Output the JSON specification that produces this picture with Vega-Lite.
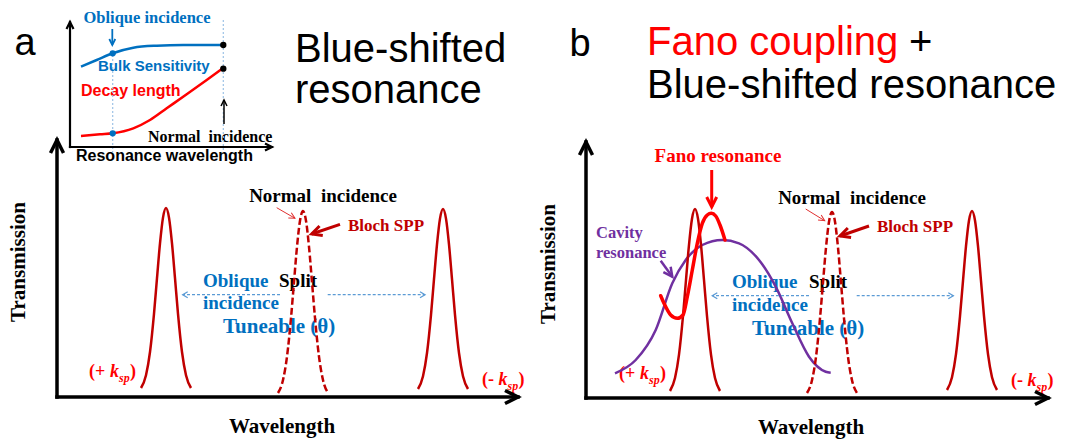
{
  "$schema": "https://vega.github.io/schema/vega-lite/v6.json",
  "width": 1079,
  "height": 441,
  "autosize": {"type": "fit", "contains": "padding"},
  "padding": 0,
  "background": "white",
  "config": {"view": {"stroke": null}},
  "datasets": {
    "panelLetters": [
      {"x": 25, "y": 55, "label": "a"},
      {"x": 580, "y": 56, "label": "b"}
    ],
    "headingBlack": [
      {"x": 295, "y": 62, "label": "Blue-shifted"},
      {"x": 295, "y": 103, "label": "resonance"},
      {"x": 909, "y": 55, "label": "+"},
      {"x": 647, "y": 98, "label": "Blue-shifted resonance"}
    ],
    "headingRed": [
      {"x": 647, "y": 55, "label": "Fano coupling"}
    ],
    "insetObliqueLabel": [
      {"x": 147, "y": 18, "label": "Oblique incidence"}
    ],
    "insetBulkLabel": [
      {"x": 98, "y": 66, "label": "Bulk Sensitivity"}
    ],
    "insetDecayLabel": [
      {"x": 81, "y": 91, "label": "Decay length"}
    ],
    "insetNormalLabel": [
      {"x": 148, "y": 137, "label": "Normal \u00a0incidence"}
    ],
    "insetAxisLabel": [
      {"x": 76, "y": 156, "label": "Resonance wavelength"}
    ],
    "wavelengthTitles": [
      {"x": 282, "y": 427, "label": "Wavelength"},
      {"x": 811, "y": 428, "label": "Wavelength"}
    ],
    "transmissionTitles": [
      {"x": 19, "y": 262, "label": "Transmission"},
      {"x": 549, "y": 264, "label": "Transmission"}
    ],
    "normalLabels": [
      {"x": 323, "y": 196, "label": "Normal \u00a0incidence"},
      {"x": 852, "y": 198, "label": "Normal \u00a0incidence"}
    ],
    "blochLabels": [
      {"x": 348, "y": 226, "label": "Bloch SPP"},
      {"x": 877, "y": 227, "label": "Bloch SPP"}
    ],
    "obliqueLabels": [
      {"x": 203, "y": 281, "label": "Oblique"},
      {"x": 203, "y": 303, "label": "incidence"},
      {"x": 732, "y": 282, "label": "Oblique"},
      {"x": 732, "y": 305, "label": "incidence"}
    ],
    "splitLabels": [
      {"x": 279, "y": 281, "label": "Split"},
      {"x": 809, "y": 282, "label": "Split"}
    ],
    "tuneLabels": [
      {"x": 223, "y": 327, "label": "Tuneable (θ)"},
      {"x": 752, "y": 329, "label": "Tuneable (θ)"}
    ],
    "fanoLabel": [
      {"x": 718, "y": 156, "label": "Fano resonance"}
    ],
    "cavityLabel": [
      {"x": 596, "y": 233, "label": "Cavity"},
      {"x": 596, "y": 253, "label": "resonance"}
    ],
    "kUpright": [
      {"x": 89, "y": 377, "label": "(+ "},
      {"x": 130, "y": 377, "label": ")"},
      {"x": 482, "y": 384.5, "label": "(- "},
      {"x": 518.5, "y": 384.5, "label": ")"},
      {"x": 619, "y": 378.5, "label": "(+ "},
      {"x": 660, "y": 378.5, "label": ")"},
      {"x": 1011, "y": 385.5, "label": "(- "},
      {"x": 1047.5, "y": 385.5, "label": ")"}
    ],
    "kItalic": [
      {"x": 110, "y": 377, "label": "k"},
      {"x": 498.5, "y": 384.5, "label": "k"},
      {"x": 640, "y": 378.5, "label": "k"},
      {"x": 1027.5, "y": 385.5, "label": "k"}
    ],
    "kSub": [
      {"x": 119, "y": 382, "label": "sp"},
      {"x": 507.5, "y": 389.5, "label": "sp"},
      {"x": 649, "y": 383.5, "label": "sp"},
      {"x": 1036.5, "y": 390.5, "label": "sp"}
    ],
    "insetGuides": [
      {"x": 112.7, "y": 55, "y2": 152},
      {"x": 223.3, "y": 20, "y2": 152}
    ],
    "bulkCurve": [
      {"x": 81, "y": 66.7}, {"x": 96.7, "y": 60}, {"x": 112.7, "y": 53.3},
      {"x": 133.3, "y": 47.7}, {"x": 156.7, "y": 45.7}, {"x": 183.3, "y": 45},
      {"x": 223.3, "y": 45}
    ],
    "decayCurve": [
      {"x": 81, "y": 136}, {"x": 100, "y": 134.3}, {"x": 112.7, "y": 133.3},
      {"x": 133.3, "y": 128.3}, {"x": 150, "y": 120}, {"x": 166.7, "y": 108.3},
      {"x": 186.7, "y": 94.3}, {"x": 206.7, "y": 80}, {"x": 221.7, "y": 69}
    ],
    "cavityCurve": [
      {"x": 615, "y": 373.3}, {"x": 635.7, "y": 360}, {"x": 655.7, "y": 330},
      {"x": 672.3, "y": 283.3}, {"x": 685.7, "y": 260}, {"x": 702.3, "y": 245},
      {"x": 722.3, "y": 240}, {"x": 739, "y": 243.3}, {"x": 759, "y": 260},
      {"x": 775.7, "y": 286.7}, {"x": 792.3, "y": 323.3}, {"x": 809, "y": 356.7},
      {"x": 825.7, "y": 371.7}, {"x": 830.7, "y": 372.7}
    ],
    "solidPeaks": [
      {"peak": "a+", "x": 141, "y": 388}, {"peak": "a+", "x": 146, "y": 375.2}, {"peak": "a+", "x": 150, "y": 352},
      {"peak": "a+", "x": 154, "y": 313.8}, {"peak": "a+", "x": 157, "y": 278.2}, {"peak": "a+", "x": 160, "y": 243.4},
      {"peak": "a+", "x": 163, "y": 217.6}, {"peak": "a+", "x": 166, "y": 208}, {"peak": "a+", "x": 169, "y": 217.6},
      {"peak": "a+", "x": 172, "y": 243.4}, {"peak": "a+", "x": 175, "y": 278.2}, {"peak": "a+", "x": 178, "y": 313.8},
      {"peak": "a+", "x": 182, "y": 352}, {"peak": "a+", "x": 186, "y": 375.2}, {"peak": "a+", "x": 191, "y": 388},

      {"peak": "a-", "x": 418, "y": 389}, {"peak": "a-", "x": 423, "y": 376.2}, {"peak": "a-", "x": 427, "y": 353},
      {"peak": "a-", "x": 431, "y": 314.8}, {"peak": "a-", "x": 434, "y": 279.2}, {"peak": "a-", "x": 437, "y": 244.4},
      {"peak": "a-", "x": 440, "y": 218.6}, {"peak": "a-", "x": 443, "y": 209}, {"peak": "a-", "x": 446, "y": 218.6},
      {"peak": "a-", "x": 449, "y": 244.4}, {"peak": "a-", "x": 452, "y": 279.2}, {"peak": "a-", "x": 455, "y": 314.8},
      {"peak": "a-", "x": 459, "y": 353}, {"peak": "a-", "x": 463, "y": 376.2}, {"peak": "a-", "x": 468, "y": 389},

      {"peak": "b+", "x": 670, "y": 391}, {"peak": "b+", "x": 675, "y": 378}, {"peak": "b+", "x": 679, "y": 354.6},
      {"peak": "b+", "x": 683, "y": 316}, {"peak": "b+", "x": 686, "y": 280}, {"peak": "b+", "x": 689, "y": 244.8},
      {"peak": "b+", "x": 692, "y": 218.7}, {"peak": "b+", "x": 695, "y": 209}, {"peak": "b+", "x": 698, "y": 218.7},
      {"peak": "b+", "x": 701, "y": 244.8}, {"peak": "b+", "x": 704, "y": 280}, {"peak": "b+", "x": 707, "y": 316},
      {"peak": "b+", "x": 711, "y": 354.6}, {"peak": "b+", "x": 715, "y": 378}, {"peak": "b+", "x": 720, "y": 391},

      {"peak": "b-", "x": 947, "y": 390}, {"peak": "b-", "x": 952, "y": 377.2}, {"peak": "b-", "x": 956, "y": 354.2},
      {"peak": "b-", "x": 960, "y": 316.2}, {"peak": "b-", "x": 963, "y": 280.8}, {"peak": "b-", "x": 966, "y": 246.2},
      {"peak": "b-", "x": 969, "y": 220.5}, {"peak": "b-", "x": 972, "y": 211}, {"peak": "b-", "x": 975, "y": 220.5},
      {"peak": "b-", "x": 978, "y": 246.2}, {"peak": "b-", "x": 981, "y": 280.8}, {"peak": "b-", "x": 984, "y": 316.2},
      {"peak": "b-", "x": 988, "y": 354.2}, {"peak": "b-", "x": 992, "y": 377.2}, {"peak": "b-", "x": 997, "y": 390}
    ],
    "normalPeaks": [
      {"peak": "a0", "x": 278, "y": 393}, {"peak": "a0", "x": 283, "y": 380}, {"peak": "a0", "x": 287, "y": 356.6},
      {"peak": "a0", "x": 291, "y": 318}, {"peak": "a0", "x": 294, "y": 282}, {"peak": "a0", "x": 297, "y": 246.8},
      {"peak": "a0", "x": 300, "y": 220.7}, {"peak": "a0", "x": 303, "y": 211}, {"peak": "a0", "x": 306, "y": 220.7},
      {"peak": "a0", "x": 309, "y": 246.8}, {"peak": "a0", "x": 312, "y": 282}, {"peak": "a0", "x": 315, "y": 318},
      {"peak": "a0", "x": 319, "y": 356.6}, {"peak": "a0", "x": 323, "y": 380}, {"peak": "a0", "x": 328, "y": 393},

      {"peak": "b0", "x": 807, "y": 393}, {"peak": "b0", "x": 812, "y": 380.2}, {"peak": "b0", "x": 816, "y": 356.9},
      {"peak": "b0", "x": 820, "y": 318.4}, {"peak": "b0", "x": 823, "y": 282.6}, {"peak": "b0", "x": 826, "y": 247.6},
      {"peak": "b0", "x": 829, "y": 221.7}, {"peak": "b0", "x": 832, "y": 212}, {"peak": "b0", "x": 835, "y": 221.7},
      {"peak": "b0", "x": 838, "y": 247.6}, {"peak": "b0", "x": 841, "y": 282.6}, {"peak": "b0", "x": 844, "y": 318.4},
      {"peak": "b0", "x": 848, "y": 356.9}, {"peak": "b0", "x": 852, "y": 380.2}, {"peak": "b0", "x": 857, "y": 393}
    ],
    "fanoCurve": [
      {"x": 660.7, "y": 295.7}, {"x": 664, "y": 303.3}, {"x": 670.7, "y": 315},
      {"x": 677.3, "y": 318.3}, {"x": 683, "y": 315}, {"x": 687.3, "y": 296.7},
      {"x": 692.3, "y": 270}, {"x": 697.3, "y": 243.3}, {"x": 702.3, "y": 223.3},
      {"x": 707.3, "y": 215}, {"x": 711.3, "y": 213.3}, {"x": 715.7, "y": 216},
      {"x": 720, "y": 225}, {"x": 725, "y": 240}
    ],
    "mainAxes": [
      {"x": 57, "y": 397, "x2": 57, "y2": 140, "dir": 270},
      {"x": 57, "y": 397, "x2": 518, "y2": 397, "dir": 0},
      {"x": 586, "y": 398, "x2": 586, "y2": 142, "dir": 270},
      {"x": 586, "y": 398, "x2": 1048, "y2": 398, "dir": 0}
    ],
    "insetAxes": [
      {"x": 70, "y": 147, "x2": 70, "y2": 22, "dir": 270},
      {"x": 70, "y": 147, "x2": 272, "y2": 147, "dir": 0}
    ],
    "blochPointers": [
      {"x": 340, "y": 224.3, "x2": 311.7, "y2": 234, "dir": 161},
      {"x": 869, "y": 226, "x2": 840, "y2": 236, "dir": 161}
    ],
    "fanoPointer": [
      {"x": 711.7, "y": 170, "x2": 711.7, "y2": 207, "dir": 90}
    ],
    "cavityPointer": [
      {"x": 660.7, "y": 260.7, "x2": 672.3, "y2": 276.7, "dir": 54}
    ],
    "normalPointers": [
      {"x": 276.7, "y": 207.7, "x2": 295, "y2": 218.3, "dir": 30},
      {"x": 805.7, "y": 209, "x2": 824.7, "y2": 220.7, "dir": 32}
    ],
    "obliquePointer": [
      {"x": 112.3, "y": 29, "x2": 112.3, "y2": 45, "dir": 90}
    ],
    "normalInsetPointer": [
      {"x": 224, "y": 124, "x2": 224, "y2": 100, "dir": 270}
    ],
    "splitArrows": [
      {"x": 280, "y": 294.7, "x2": 182.7, "y2": 294.7, "dir": 180},
      {"x": 327.7, "y": 294.7, "x2": 425, "y2": 294.7, "dir": 0},
      {"x": 809, "y": 295.7, "x2": 712.3, "y2": 295.7, "dir": 180},
      {"x": 856.7, "y": 295.7, "x2": 953.3, "y2": 295.7, "dir": 0}
    ],
    "normalDots": [
      {"x": 223.3, "y": 45}, {"x": 223.3, "y": 68.7}
    ],
    "obliqueDots": [
      {"x": 112.7, "y": 53.3}, {"x": 112.7, "y": 133.3}
    ]
  },
  "encoding": {
    "x": {"field": "x", "type": "quantitative", "scale": {"domain": [0, 1079], "nice": false, "zero": false}, "axis": null},
    "y": {"field": "y", "type": "quantitative", "scale": {"domain": [0, 441], "nice": false, "zero": false, "reverse": true}, "axis": null}
  },
  "layer": [
    {
      "data": {"name": "panelLetters"},
      "mark": {"type": "text", "font": "Liberation Sans", "fontSize": 38, "align": "center", "baseline": "alphabetic", "color": "black"},
      "encoding": {"text": {"field": "label"}}
    },
    {
      "data": {"name": "headingBlack"},
      "mark": {"type": "text", "font": "Liberation Sans", "fontSize": 40, "align": "left", "baseline": "alphabetic", "color": "black"},
      "encoding": {"text": {"field": "label"}}
    },
    {
      "data": {"name": "headingRed"},
      "mark": {"type": "text", "font": "Liberation Sans", "fontSize": 40, "align": "left", "baseline": "alphabetic", "color": "#FF0000"},
      "encoding": {"text": {"field": "label"}}
    },
    {
      "data": {"name": "insetObliqueLabel"},
      "mark": {"type": "text", "font": "Liberation Serif", "fontWeight": "bold", "fontSize": 16.5, "align": "center", "baseline": "middle", "color": "#0070C0"},
      "encoding": {"text": {"field": "label"}}
    },
    {
      "data": {"name": "insetBulkLabel"},
      "mark": {"type": "text", "font": "Liberation Sans", "fontWeight": "bold", "fontSize": 15, "align": "left", "baseline": "middle", "color": "#0070C0"},
      "encoding": {"text": {"field": "label"}}
    },
    {
      "data": {"name": "insetDecayLabel"},
      "mark": {"type": "text", "font": "Liberation Sans", "fontWeight": "bold", "fontSize": 16, "align": "left", "baseline": "middle", "color": "#FF0000"},
      "encoding": {"text": {"field": "label"}}
    },
    {
      "data": {"name": "insetNormalLabel"},
      "mark": {"type": "text", "font": "Liberation Serif", "fontWeight": "bold", "fontSize": 16, "align": "left", "baseline": "middle", "color": "black"},
      "encoding": {"text": {"field": "label"}}
    },
    {
      "data": {"name": "insetAxisLabel"},
      "mark": {"type": "text", "font": "Liberation Sans", "fontWeight": "bold", "fontSize": 16, "align": "left", "baseline": "middle", "color": "black"},
      "encoding": {"text": {"field": "label"}}
    },
    {
      "data": {"name": "wavelengthTitles"},
      "mark": {"type": "text", "font": "Liberation Serif", "fontWeight": "bold", "fontSize": 21, "align": "center", "baseline": "middle", "color": "black"},
      "encoding": {"text": {"field": "label"}}
    },
    {
      "data": {"name": "transmissionTitles"},
      "mark": {"type": "text", "font": "Liberation Serif", "fontWeight": "bold", "fontSize": 21, "align": "center", "baseline": "middle", "angle": 270, "color": "black"},
      "encoding": {"text": {"field": "label"}}
    },
    {
      "data": {"name": "normalLabels"},
      "mark": {"type": "text", "font": "Liberation Serif", "fontWeight": "bold", "fontSize": 19, "align": "center", "baseline": "middle", "color": "black"},
      "encoding": {"text": {"field": "label"}}
    },
    {
      "data": {"name": "blochLabels"},
      "mark": {"type": "text", "font": "Liberation Serif", "fontWeight": "bold", "fontSize": 17, "align": "left", "baseline": "middle", "color": "#C00000"},
      "encoding": {"text": {"field": "label"}}
    },
    {
      "data": {"name": "obliqueLabels"},
      "mark": {"type": "text", "font": "Liberation Serif", "fontWeight": "bold", "fontSize": 19, "align": "left", "baseline": "middle", "color": "#0070C0"},
      "encoding": {"text": {"field": "label"}}
    },
    {
      "data": {"name": "splitLabels"},
      "mark": {"type": "text", "font": "Liberation Serif", "fontWeight": "bold", "fontSize": 19, "align": "left", "baseline": "middle", "color": "black"},
      "encoding": {"text": {"field": "label"}}
    },
    {
      "data": {"name": "tuneLabels"},
      "mark": {"type": "text", "font": "Liberation Serif", "fontWeight": "bold", "fontSize": 21, "align": "left", "baseline": "middle", "color": "#0070C0"},
      "encoding": {"text": {"field": "label"}}
    },
    {
      "data": {"name": "fanoLabel"},
      "mark": {"type": "text", "font": "Liberation Serif", "fontWeight": "bold", "fontSize": 19, "align": "center", "baseline": "middle", "color": "#FF0000"},
      "encoding": {"text": {"field": "label"}}
    },
    {
      "data": {"name": "cavityLabel"},
      "mark": {"type": "text", "font": "Liberation Serif", "fontWeight": "bold", "fontSize": 16.5, "align": "left", "baseline": "middle", "color": "#7030A0"},
      "encoding": {"text": {"field": "label"}}
    },
    {
      "data": {"name": "kUpright"},
      "mark": {"type": "text", "font": "Liberation Serif", "fontWeight": "bold", "fontSize": 18, "align": "left", "baseline": "alphabetic", "color": "#FF0000"},
      "encoding": {"text": {"field": "label"}}
    },
    {
      "data": {"name": "kItalic"},
      "mark": {"type": "text", "font": "Liberation Serif", "fontWeight": "bold", "fontStyle": "italic", "fontSize": 18, "align": "left", "baseline": "alphabetic", "color": "#FF0000"},
      "encoding": {"text": {"field": "label"}}
    },
    {
      "data": {"name": "kSub"},
      "mark": {"type": "text", "font": "Liberation Serif", "fontWeight": "bold", "fontStyle": "italic", "fontSize": 12, "align": "left", "baseline": "alphabetic", "color": "#FF0000"},
      "encoding": {"text": {"field": "label"}}
    },
    {
      "data": {"name": "insetGuides"},
      "mark": {"type": "rule", "color": "#9DC3E6", "strokeWidth": 1.2, "strokeDash": [2, 2]},
      "encoding": {"y2": {"field": "y2"}}
    },
    {
      "data": {"name": "bulkCurve"},
      "mark": {"type": "line", "interpolate": "monotone", "color": "#0070C0", "strokeWidth": 2.5},
      "encoding": {}
    },
    {
      "data": {"name": "decayCurve"},
      "mark": {"type": "line", "interpolate": "monotone", "color": "#FF0000", "strokeWidth": 2.5},
      "encoding": {}
    },
    {
      "data": {"name": "cavityCurve"},
      "mark": {"type": "line", "interpolate": "monotone", "color": "#7030A0", "strokeWidth": 2.5},
      "encoding": {}
    },
    {
      "data": {"name": "solidPeaks"},
      "mark": {"type": "line", "interpolate": "monotone", "color": "#C00000", "strokeWidth": 2.5},
      "encoding": {"detail": {"field": "peak"}}
    },
    {
      "data": {"name": "normalPeaks"},
      "mark": {"type": "line", "interpolate": "monotone", "color": "#C00000", "strokeWidth": 2.5, "strokeDash": [7, 3]},
      "encoding": {"detail": {"field": "peak"}}
    },
    {
      "data": {"name": "fanoCurve"},
      "mark": {"type": "line", "interpolate": "monotone", "color": "#FF0000", "strokeWidth": 3.5, "strokeCap": "round"},
      "encoding": {}
    },
    {
      "data": {"name": "mainAxes"},
      "mark": {"type": "rule", "color": "black", "strokeWidth": 3.5, "strokeCap": "square"},
      "encoding": {"x2": {"field": "x2"}, "y2": {"field": "y2"}}
    },
    {
      "data": {"name": "mainAxes"},
      "mark": {"type": "point", "shape": "M-1,-0.5L0,0L-1,0.5", "filled": false, "size": 676, "strokeWidth": 3.5, "color": "black", "opacity": 1, "strokeJoin": "miter"},
      "encoding": {
        "x": {"field": "x2", "type": "quantitative", "scale": {"domain": [0, 1079], "nice": false, "zero": false}, "axis": null},
        "y": {"field": "y2", "type": "quantitative", "scale": {"domain": [0, 441], "nice": false, "zero": false, "reverse": true}, "axis": null},
        "angle": {"field": "dir", "type": "quantitative", "scale": null}
      }
    },
    {
      "data": {"name": "insetAxes"},
      "mark": {"type": "rule", "color": "black", "strokeWidth": 2.2, "strokeCap": "square"},
      "encoding": {"x2": {"field": "x2"}, "y2": {"field": "y2"}}
    },
    {
      "data": {"name": "insetAxes"},
      "mark": {"type": "point", "shape": "M-1,-0.5L0,0L-1,0.5", "filled": false, "size": 196, "strokeWidth": 2.2, "color": "black", "opacity": 1, "strokeJoin": "miter"},
      "encoding": {
        "x": {"field": "x2", "type": "quantitative", "scale": {"domain": [0, 1079], "nice": false, "zero": false}, "axis": null},
        "y": {"field": "y2", "type": "quantitative", "scale": {"domain": [0, 441], "nice": false, "zero": false, "reverse": true}, "axis": null},
        "angle": {"field": "dir", "type": "quantitative", "scale": null}
      }
    },
    {
      "data": {"name": "blochPointers"},
      "mark": {"type": "rule", "color": "#C00000", "strokeWidth": 3},
      "encoding": {"x2": {"field": "x2"}, "y2": {"field": "y2"}}
    },
    {
      "data": {"name": "blochPointers"},
      "mark": {"type": "point", "shape": "M-1,-0.5L0,0L-1,0.5", "filled": false, "size": 400, "strokeWidth": 3, "color": "#C00000", "opacity": 1, "strokeJoin": "miter"},
      "encoding": {
        "x": {"field": "x2", "type": "quantitative", "scale": {"domain": [0, 1079], "nice": false, "zero": false}, "axis": null},
        "y": {"field": "y2", "type": "quantitative", "scale": {"domain": [0, 441], "nice": false, "zero": false, "reverse": true}, "axis": null},
        "angle": {"field": "dir", "type": "quantitative", "scale": null}
      }
    },
    {
      "data": {"name": "fanoPointer"},
      "mark": {"type": "rule", "color": "#FF0000", "strokeWidth": 3},
      "encoding": {"x2": {"field": "x2"}, "y2": {"field": "y2"}}
    },
    {
      "data": {"name": "fanoPointer"},
      "mark": {"type": "point", "shape": "M-1,-0.5L0,0L-1,0.5", "filled": false, "size": 400, "strokeWidth": 3, "color": "#FF0000", "opacity": 1, "strokeJoin": "miter"},
      "encoding": {
        "x": {"field": "x2", "type": "quantitative", "scale": {"domain": [0, 1079], "nice": false, "zero": false}, "axis": null},
        "y": {"field": "y2", "type": "quantitative", "scale": {"domain": [0, 441], "nice": false, "zero": false, "reverse": true}, "axis": null},
        "angle": {"field": "dir", "type": "quantitative", "scale": null}
      }
    },
    {
      "data": {"name": "cavityPointer"},
      "mark": {"type": "rule", "color": "#7030A0", "strokeWidth": 2.5},
      "encoding": {"x2": {"field": "x2"}, "y2": {"field": "y2"}}
    },
    {
      "data": {"name": "cavityPointer"},
      "mark": {"type": "point", "shape": "M-1,-0.5L0,0L-1,0.5", "filled": false, "size": 324, "strokeWidth": 2.5, "color": "#7030A0", "opacity": 1, "strokeJoin": "miter"},
      "encoding": {
        "x": {"field": "x2", "type": "quantitative", "scale": {"domain": [0, 1079], "nice": false, "zero": false}, "axis": null},
        "y": {"field": "y2", "type": "quantitative", "scale": {"domain": [0, 441], "nice": false, "zero": false, "reverse": true}, "axis": null},
        "angle": {"field": "dir", "type": "quantitative", "scale": null}
      }
    },
    {
      "data": {"name": "normalPointers"},
      "mark": {"type": "rule", "color": "#E03030", "strokeWidth": 1},
      "encoding": {"x2": {"field": "x2"}, "y2": {"field": "y2"}}
    },
    {
      "data": {"name": "normalPointers"},
      "mark": {"type": "point", "shape": "M-1,-0.5L0,0L-1,0.5", "filled": false, "size": 144, "strokeWidth": 1, "color": "#E03030", "opacity": 1},
      "encoding": {
        "x": {"field": "x2", "type": "quantitative", "scale": {"domain": [0, 1079], "nice": false, "zero": false}, "axis": null},
        "y": {"field": "y2", "type": "quantitative", "scale": {"domain": [0, 441], "nice": false, "zero": false, "reverse": true}, "axis": null},
        "angle": {"field": "dir", "type": "quantitative", "scale": null}
      }
    },
    {
      "data": {"name": "obliquePointer"},
      "mark": {"type": "rule", "color": "#0070C0", "strokeWidth": 1.8},
      "encoding": {"x2": {"field": "x2"}, "y2": {"field": "y2"}}
    },
    {
      "data": {"name": "obliquePointer"},
      "mark": {"type": "point", "shape": "M-1,-0.5L0,0L-1,0.5", "filled": false, "size": 144, "strokeWidth": 1.8, "color": "#0070C0", "opacity": 1},
      "encoding": {
        "x": {"field": "x2", "type": "quantitative", "scale": {"domain": [0, 1079], "nice": false, "zero": false}, "axis": null},
        "y": {"field": "y2", "type": "quantitative", "scale": {"domain": [0, 441], "nice": false, "zero": false, "reverse": true}, "axis": null},
        "angle": {"field": "dir", "type": "quantitative", "scale": null}
      }
    },
    {
      "data": {"name": "normalInsetPointer"},
      "mark": {"type": "rule", "color": "black", "strokeWidth": 1.5},
      "encoding": {"x2": {"field": "x2"}, "y2": {"field": "y2"}}
    },
    {
      "data": {"name": "normalInsetPointer"},
      "mark": {"type": "point", "shape": "M-1,-0.5L0,0L-1,0.5", "filled": false, "size": 144, "strokeWidth": 1.5, "color": "black", "opacity": 1},
      "encoding": {
        "x": {"field": "x2", "type": "quantitative", "scale": {"domain": [0, 1079], "nice": false, "zero": false}, "axis": null},
        "y": {"field": "y2", "type": "quantitative", "scale": {"domain": [0, 441], "nice": false, "zero": false, "reverse": true}, "axis": null},
        "angle": {"field": "dir", "type": "quantitative", "scale": null}
      }
    },
    {
      "data": {"name": "splitArrows"},
      "mark": {"type": "rule", "color": "#5B9BD5", "strokeWidth": 1.3, "strokeDash": [3, 2]},
      "encoding": {"x2": {"field": "x2"}, "y2": {"field": "y2"}}
    },
    {
      "data": {"name": "splitArrows"},
      "mark": {"type": "point", "shape": "M-1,-0.6L0,0L-1,0.6", "filled": false, "size": 100, "strokeWidth": 1.3, "color": "#5B9BD5", "opacity": 1},
      "encoding": {
        "x": {"field": "x2", "type": "quantitative", "scale": {"domain": [0, 1079], "nice": false, "zero": false}, "axis": null},
        "y": {"field": "y2", "type": "quantitative", "scale": {"domain": [0, 441], "nice": false, "zero": false, "reverse": true}, "axis": null},
        "angle": {"field": "dir", "type": "quantitative", "scale": null}
      }
    },
    {
      "data": {"name": "normalDots"},
      "mark": {"type": "point", "shape": "circle", "filled": true, "size": 40, "color": "black", "opacity": 1}
    },
    {
      "data": {"name": "obliqueDots"},
      "mark": {"type": "point", "shape": "circle", "filled": true, "size": 40, "color": "#0070C0", "opacity": 1}
    }
  ]
}
